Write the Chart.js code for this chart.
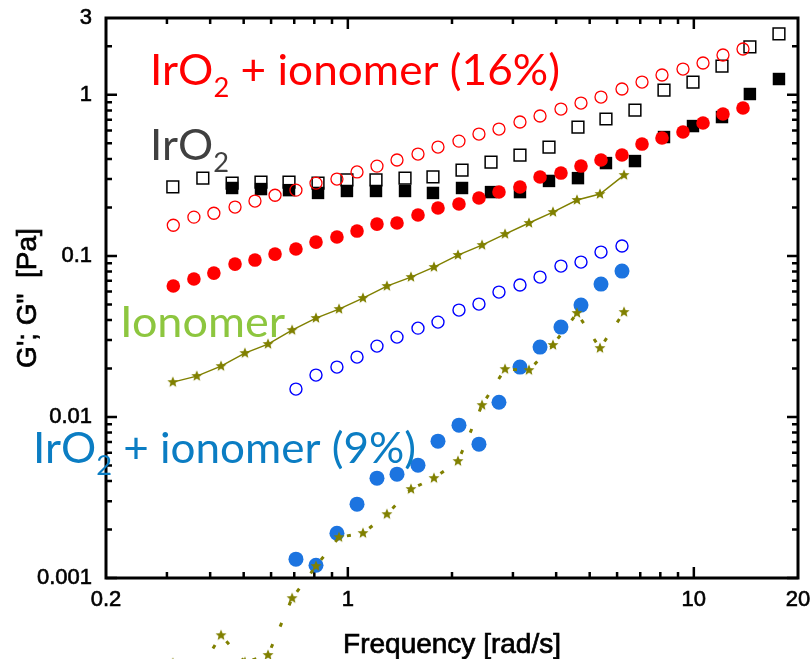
<!DOCTYPE html>
<html>
<head>
<meta charset="utf-8">
<title>G' and G'' vs frequency</title>
<script src="https://cdn.jsdelivr.net/npm/chart.js@4.4.1/dist/chart.umd.min.js"></script>
<style>
  html, body { margin: 0; padding: 0; background: #fff; }
  canvas { display: block; }
</style>
</head>
<body>
<canvas id="rheo" width="812" height="659"></canvas>
<script>
// angular frequency grids [rad/s]
const freqIrO2 = [0.312, 0.381, 0.463, 0.561, 0.676, 0.820, 0.994, 1.206, 1.463, 1.762, 2.138,
                  2.593, 3.144, 3.814, 4.625, 5.572, 6.758, 8.199, 9.943, 12.06, 14.52, 17.62];
const freqMix16 = [0.313, 0.359, 0.410, 0.472, 0.539, 0.616, 0.708, 0.809, 0.930, 1.063, 1.214,
                   1.387, 1.595, 1.822, 2.095, 2.393, 2.734, 3.144, 3.593, 4.130, 4.719, 5.391,
                   6.199, 7.083, 8.091, 9.303, 10.63, 12.14, 13.87];
const freqMix9 = [0.708, 0.809, 0.930, 1.063, 1.214, 1.387, 1.595, 1.822, 2.095, 2.393, 2.734,
                  3.144, 3.593, 4.130, 4.719, 5.391, 6.199];
const freqIonomer = [0.312, 0.366, 0.430, 0.504, 0.588, 0.690, 0.809, 0.943, 1.106, 1.297,
                     1.522, 1.774, 2.081, 2.442, 2.846, 3.338, 3.916, 4.595, 5.355, 6.283];

// IrO2 : G' (filled squares), G'' (open squares) [Pa]
const iro2Storage = [null, null, 0.264, 0.260, 0.256, 0.246, 0.253, 0.253, 0.253, 0.246, 0.264,
                     0.249, 0.249, 0.292, 0.304, 0.377, 0.388, 0.547, 0.640, 0.728, 1.012, 1.254];
const iro2Loss = [0.268, 0.304, 0.283, 0.287, 0.287, 0.283, 0.296, 0.296, 0.304, 0.309, 0.341,
                  0.382, 0.423, 0.474, 0.631, 0.708, 0.805, 1.071, 1.201, 1.510, 1.982, 2.387];

// IrO2 + ionomer (16%)
const mix16Storage = [0.0650, 0.0718, 0.0782, 0.0889, 0.0942, 0.1026, 0.1103, 0.1218, 0.1309,
                      0.1426, 0.1576, 0.1600, 0.1793, 0.1982, 0.2099, 0.2286, 0.2491, 0.2676,
                      0.3087, 0.3268, 0.3612, 0.3937, 0.4228, 0.4947, 0.5391, 0.5875, 0.6682,
                      0.7599, 0.8279];
const mix16Loss = [0.155, 0.174, 0.184, 0.201, 0.219, 0.238, 0.256, 0.283, 0.300, 0.332, 0.361,
                   0.394, 0.429, 0.474, 0.516, 0.571, 0.613, 0.678, 0.739, 0.816, 0.889, 0.969,
                   1.087, 1.201, 1.328, 1.446, 1.576, 1.767, 1.926];

// IrO2 + ionomer (9%)
const mix9Storage = [0.001309, 0.001201, 0.001898, 0.002874, 0.004169, 0.004414, 0.005019,
                     0.007074, 0.008892, 0.006780, 0.01235, 0.02040, 0.02714, 0.03612,
                     0.04947, 0.06682, 0.08045];
const mix9Loss = [0.01489, 0.01819, 0.02040, 0.02353, 0.02753, 0.03131, 0.03560, 0.03880,
                  0.04607, 0.05019, 0.05960, 0.06589, 0.07386, 0.08644, 0.09152, 0.1056, 0.1151];

// ionomer alone : G'' (solid line), G' (dotted line)
const ionomerLoss = [0.01645, 0.01793, 0.02068, 0.02490, 0.02833, 0.03460, 0.04109, 0.04672,
                     0.05469, 0.06496, 0.07386, 0.08520, 0.1012, 0.1167, 0.1366, 0.1600, 0.1871,
                     0.2222, 0.2420, 0.3176];
const ionomerStorage = [0.000296, 0.00025, 0.000441, 0.0003, 0.000332, 0.000749, 0.001184,
                        0.001792, 0.001898, 0.00249, 0.003561, 0.004168, 0.005315, 0.01184,
                        0.01981, 0.01953, 0.02793, 0.04413, 0.02675, 0.04477];

const xTickLabels = [0.2, 1, 10, 20];
const yTickLabels = [0.001, 0.01, 0.1, 1, 3];
const xTitle = 'Frequency [rad/s]';
const yTitle = "G'; G\"  [Pa]";

const OLIVE = '#808000';
const AXIS_FONT = '"Liberation Sans", Arial, sans-serif';

function pairs(xs, ys) {
  return xs.map((x, i) => ({ x: x, y: ys[i] }));
}

// five-pointed star marker
function starMarker(r, color) {
  const c = document.createElement('canvas');
  const s = Math.ceil(r * 2 + 2);
  c.width = c.height = s;
  const g = c.getContext('2d');
  g.fillStyle = color;
  g.beginPath();
  for (let i = 0; i < 10; i++) {
    const rad = i % 2 ? r * 0.45 : r;
    const a = -Math.PI / 2 + i * Math.PI / 5;
    g.lineTo(s / 2 + rad * Math.cos(a), s / 2 + rad * Math.sin(a));
  }
  g.closePath();
  g.fill();
  return c;
}
const star = starMarker(5.8, OLIVE);

// frame with inward ticks on all four sides
const frameTicks = {
  id: 'frameTicks',
  beforeDatasetsDraw(chart) {
    const { ctx, chartArea: a, scales: { x, y } } = chart;
    const xMajor = [1, 10], yMajor = [0.001, 0.01, 0.1, 1];
    const xMinor = [], yMinor = [];
    for (let d = 0.1; d < 10; d *= 10) {
      for (let m = 2; m <= 9; m++) {
        const v = +(m * d).toPrecision(3);
        if (v > 0.2 && v < 20) xMinor.push(v);
      }
    }
    for (let d = 0.001; d < 2; d *= 10) {
      for (let m = 2; m <= 9; m++) {
        const v = +(m * d).toPrecision(3);
        if (v < 3) yMinor.push(v);
      }
    }
    ctx.save();
    ctx.strokeStyle = '#000';
    ctx.lineWidth = 2.5;
    ctx.beginPath();
    const xt = (v, len) => {
      const p = x.getPixelForValue(v);
      ctx.moveTo(p, a.bottom); ctx.lineTo(p, a.bottom - len);
      ctx.moveTo(p, a.top); ctx.lineTo(p, a.top + len);
    };
    const yt = (v, len) => {
      const p = y.getPixelForValue(v);
      ctx.moveTo(a.left, p); ctx.lineTo(a.left + len, p);
      ctx.moveTo(a.right, p); ctx.lineTo(a.right - len, p);
    };
    xMinor.forEach(v => xt(v, 6));
    xMajor.forEach(v => xt(v, 11));
    yMinor.forEach(v => yt(v, 6));
    yMajor.forEach(v => yt(v, 11));
    ctx.stroke();
    ctx.lineWidth = 3;
    ctx.strokeRect(a.left, a.top, a.right - a.left, a.bottom - a.top);
    ctx.restore();
  }
};

// axis titles, drawn a little heavier than plain text
const axisTitles = {
  id: 'axisTitles',
  afterDraw(chart) {
    const { ctx, chartArea: a } = chart;
    ctx.save();
    ctx.font = '28px ' + AXIS_FONT;
    ctx.fillStyle = '#000';
    ctx.strokeStyle = '#000';
    ctx.lineWidth = 0.7;
    ctx.textAlign = 'center';
    ctx.textBaseline = 'alphabetic';
    const cx = (a.left + a.right) / 2;
    ctx.fillText(xTitle, cx, 653);
    ctx.strokeText(xTitle, cx, 653);
    ctx.translate(36, (a.top + a.bottom) / 2);
    ctx.rotate(-Math.PI / 2);
    ctx.fillText(yTitle, 0, 0);
    ctx.strokeText(yTitle, 0, 0);
    ctx.restore();
  }
};

// stars of the dotted series that fall below the frame
const looseStars = {
  id: 'looseStars',
  afterDatasetsDraw(chart) {
    const { ctx, chartArea: a } = chart;
    chart.data.datasets.forEach((ds, i) => {
      if (!ds.drawOutside) return;
      chart.getDatasetMeta(i).data.forEach(pt => {
        if (pt.skip || pt.y <= a.bottom) return;
        ctx.drawImage(star, pt.x - star.width / 2, pt.y - star.height / 2);
      });
    });
  }
};

// series names written inside the plot
const notes = [
  { parts: [['IrO', 0], ['2', 1], [' + ionomer (16%)', 0]], color: '#ff0000', left: 150, right: 560, base: 85 },
  { parts: [['IrO', 0], ['2', 1]], color: '#404040', left: 150, right: 229, base: 160 },
  { parts: [['Ionomer', 0]], color: '#8dc63f', left: 120, right: 285, base: 337 },
  { parts: [['IrO', 0], ['2', 1], [' + ionomer (9%)', 0]], color: '#0b7dc3', left: 33, right: 416, base: 463 }
];
const seriesNotes = {
  id: 'seriesNotes',
  afterDatasetsDraw(chart) {
    const ctx = chart.ctx;
    const size = 42, subSize = 26;
    const font = s => s + 'px Lato, "Open Sans", sans-serif';
    notes.forEach(n => {
      let w = 0;
      n.parts.forEach(([t, sub]) => { ctx.font = font(sub ? subSize : size); w += ctx.measureText(t).width; });
      ctx.save();
      ctx.translate(n.left, n.base);
      ctx.scale((n.right - n.left) / w, 1);
      ctx.fillStyle = n.color;
      ctx.textBaseline = 'alphabetic';
      let x = 0;
      n.parts.forEach(([t, sub]) => {
        ctx.font = font(sub ? subSize : size);
        ctx.fillText(t, x, sub ? 12 : 0);
        x += ctx.measureText(t).width;
      });
      ctx.restore();
    });
  }
};

const tickOpts = {
  color: '#000', autoSkip: false, maxRotation: 0,
  font: { family: AXIS_FONT, size: 22 },
  textStrokeColor: '#000', textStrokeWidth: 0.6,
  callback: v => String(v)
};

new Chart(document.getElementById('rheo'), {
  type: 'scatter',
  data: {
    datasets: [
      {
        label: "Ionomer G'",
        data: pairs(freqIonomer, ionomerStorage),
        showLine: true, clip: false, drawOutside: true,
        borderColor: OLIVE, borderWidth: 3, borderDash: [4, 19], borderCapStyle: 'butt',
        // each segment restarts its dash pattern
        segment: { borderDashOffset: c => (c.p0DataIndex % 2 ? 15 : 15.001) },
        pointStyle: star, pointRadius: 5, order: 1
      },
      {
        label: "Ionomer G''",
        data: pairs(freqIonomer, ionomerLoss),
        showLine: true,
        borderColor: OLIVE, borderWidth: 1.5,
        pointStyle: star, pointRadius: 5, order: 2
      },
      {
        label: "IrO2 + ionomer (9%) G'",
        data: pairs(freqMix9, mix9Storage),
        pointStyle: 'circle', pointRadius: 7.5,
        backgroundColor: '#1c74e0', borderColor: '#1c74e0', borderWidth: 0, order: 3
      },
      {
        label: "IrO2 + ionomer (9%) G''",
        data: pairs(freqMix9, mix9Loss),
        pointStyle: 'circle', pointRadius: 6,
        backgroundColor: 'rgba(0,0,0,0)', borderColor: '#0000ff', borderWidth: 1.4, order: 4
      },
      {
        label: "IrO2 + ionomer (16%) G'",
        data: pairs(freqMix16, mix16Storage),
        pointStyle: 'circle', pointRadius: 6.8,
        backgroundColor: '#ff0000', borderColor: '#ff0000', borderWidth: 0, order: 5
      },
      {
        label: "IrO2 + ionomer (16%) G''",
        data: pairs(freqMix16, mix16Loss),
        pointStyle: 'circle', pointRadius: 6,
        backgroundColor: 'rgba(0,0,0,0)', borderColor: '#ff0000', borderWidth: 1.3, order: 6
      },
      {
        label: "IrO2 G'",
        data: pairs(freqIrO2, iro2Storage),
        pointStyle: 'rect', pointRadius: 8.8,
        backgroundColor: '#000', borderColor: '#000', borderWidth: 0, order: 7
      },
      {
        label: "IrO2 G''",
        data: pairs(freqIrO2, iro2Loss),
        pointStyle: 'rect', pointRadius: 8.3,
        backgroundColor: '#fff', borderColor: '#000', borderWidth: 1.5, order: 8
      }
    ]
  },
  options: {
    responsive: false,
    animation: false,
    events: [],
    layout: { padding: { top: 18, right: 14, left: 0, bottom: 0 } },
    plugins: { legend: { display: false }, tooltip: { enabled: false } },
    scales: {
      x: {
        type: 'logarithmic', min: 0.2, max: 20,
        afterBuildTicks: s => { s.ticks = xTickLabels.map(v => ({ value: v })); },
        // fixed height, and no extra room for the end labels
        afterFit: s => { s.height = 81; s.paddingLeft = 0; s.paddingRight = 0; },
        grid: { display: false, drawTicks: false },
        border: { display: false },
        ticks: Object.assign({ padding: 9 }, tickOpts)
      },
      y: {
        type: 'logarithmic', min: 0.001, max: 3,
        afterBuildTicks: s => { s.ticks = yTickLabels.map(v => ({ value: v })); },
        afterFit: s => { s.width = 106; s.paddingTop = 0; s.paddingBottom = 0; },
        grid: { display: false, drawTicks: false },
        border: { display: false },
        ticks: Object.assign({ padding: 14 }, tickOpts)
      }
    }
  },
  plugins: [frameTicks, looseStars, seriesNotes, axisTitles]
});
</script>
</body>
</html>
